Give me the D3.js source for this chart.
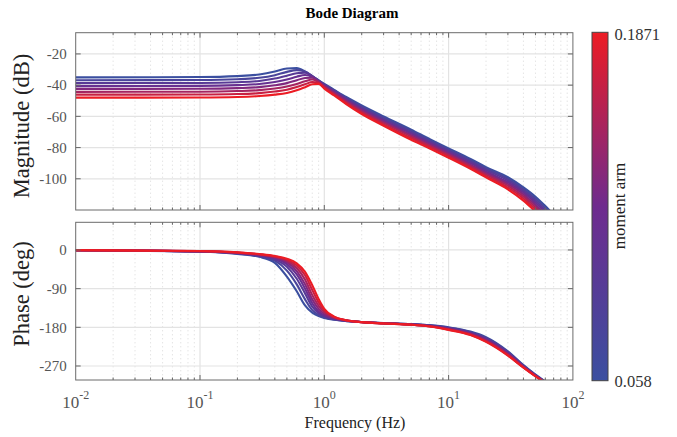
<!DOCTYPE html>
<html><head><meta charset="utf-8">
<script src="https://cdn.jsdelivr.net/npm/d3@7"></script>
<style>body{margin:0;background:#fff}svg{display:block}text{font-family:"Liberation Serif","Times New Roman",serif}</style>
</head><body><svg id="c" width="677" height="437"></svg>
<script>
// ---------- data ----------
const freqs = [0.01,0.1,0.2,0.3,0.4,0.5,0.6,0.7,0.8,0.9,1,1.2,1.5,2,3,5,7,10,15,20,30,40,50,60,70];
const momentArms = [0.058,0.0764,0.0949,0.1133,0.1318,0.1502,0.1687,0.1871];

const mag0 = [-35.0,-34.8,-34.2,-33.2,-31.3,-29.3,-29.1,-31.3,-34.3,-36.9,-39.2,-43.0,-47.6,-53.0,-60.0,-68.5,-74.5,-80.5,-87.3,-92.5,-99.0,-105.5,-111.5,-117.5,-123.0];
const mag1 = [-36.9,-36.7,-36.2,-35.3,-33.6,-31.5,-30.4,-31.3,-34.2,-37.0,-39.5,-43.4,-48.2,-53.8,-60.9,-69.4,-75.3,-81.3,-88.2,-93.4,-100.0,-106.6,-112.8,-118.8,-124.3];
const mag2 = [-38.7,-38.6,-38.1,-37.3,-35.8,-34.0,-32.4,-32.0,-34.2,-37.2,-39.8,-43.8,-48.8,-54.6,-61.8,-70.3,-76.1,-82.1,-89.1,-94.3,-101.1,-107.7,-114.1,-120.1,-125.6];
const mag3 = [-40.6,-40.5,-40.0,-39.3,-38.0,-36.4,-34.6,-33.5,-34.6,-37.5,-40.2,-44.3,-49.4,-55.3,-62.6,-71.1,-76.9,-82.9,-90.0,-95.3,-102.2,-108.8,-115.4,-121.4,-126.9];
const mag4 = [-42.4,-42.3,-41.9,-41.3,-40.1,-38.7,-36.9,-35.4,-35.3,-37.8,-40.6,-44.8,-50.0,-56.0,-63.4,-72.0,-77.7,-83.8,-90.9,-96.3,-103.3,-110.0,-116.8,-122.8,-128.3];
const mag5 = [-44.3,-44.2,-43.8,-43.2,-42.2,-40.9,-39.2,-37.5,-36.4,-38.2,-41.1,-45.4,-50.7,-56.8,-64.2,-72.9,-78.6,-84.6,-91.8,-97.2,-104.4,-111.3,-118.2,-124.2,-129.7];
const mag6 = [-46.1,-46.0,-45.7,-45.1,-44.1,-42.9,-41.2,-39.5,-38.0,-38.6,-41.6,-46.0,-51.4,-57.6,-65.1,-73.9,-79.5,-85.5,-92.7,-98.1,-105.6,-112.6,-119.6,-125.6,-131.0];
const mag7 = [-48.0,-47.9,-47.6,-47.0,-46.1,-45.0,-43.3,-41.3,-39.4,-39.2,-42.2,-46.6,-52.1,-58.5,-66.0,-75.0,-80.5,-86.5,-93.6,-99.1,-106.8,-114.0,-121.0,-127.0,-132.5];

const phase0 = [-0.5,-4.0,-9.0,-16.0,-30.0,-62.0,-96.0,-129.0,-146.0,-154.0,-158.0,-162.5,-165.5,-167.5,-170.0,-172.5,-175.0,-180.0,-190.0,-203.0,-236.0,-268.0,-290.0,-306.0,-316.0];
const phase1 = [-0.5,-3.7,-8.2,-14.5,-25.0,-48.0,-80.0,-115.0,-140.0,-151.0,-156.5,-161.5,-165.0,-167.6,-170.2,-172.8,-175.5,-180.8,-191.2,-204.5,-237.5,-269.0,-291.0,-306.5,-316.5];
const phase2 = [-0.4,-3.4,-7.6,-13.3,-22.0,-39.0,-67.0,-101.0,-132.0,-147.0,-154.5,-160.5,-164.7,-167.7,-170.4,-173.0,-176.0,-181.8,-192.5,-206.0,-239.0,-270.0,-291.5,-307.0,-317.0];
const phase3 = [-0.4,-3.2,-7.0,-12.3,-19.5,-33.0,-57.0,-90.0,-124.0,-143.0,-152.0,-159.5,-164.3,-167.8,-170.5,-173.3,-176.5,-182.8,-194.0,-208.0,-240.5,-271.0,-292.0,-307.5,-317.5];
const phase4 = [-0.4,-3.0,-6.6,-11.4,-17.5,-28.5,-49.0,-80.0,-115.0,-137.0,-149.0,-158.3,-164.0,-167.9,-170.7,-173.5,-177.0,-183.8,-195.2,-209.8,-242.0,-272.0,-292.8,-308.0,-318.0];
const phase5 = [-0.3,-2.8,-6.2,-10.6,-16.0,-25.0,-42.0,-69.0,-105.0,-130.0,-145.0,-157.0,-163.8,-168.0,-170.8,-173.7,-177.4,-184.7,-196.3,-211.3,-243.5,-272.8,-293.3,-308.5,-318.5];
const phase6 = [-0.3,-2.6,-5.8,-10.0,-15.0,-22.5,-36.0,-59.0,-93.0,-122.0,-141.0,-156.0,-163.6,-168.0,-170.9,-173.9,-177.7,-185.4,-197.2,-212.7,-244.8,-273.4,-293.7,-308.8,-318.8];
const phase7 = [-0.3,-2.5,-5.5,-9.5,-14.0,-20.5,-31.0,-51.0,-82.0,-114.0,-137.0,-155.0,-163.5,-168.0,-171.0,-174.0,-178.0,-186.0,-198.0,-214.0,-246.0,-274.0,-294.0,-309.0,-319.0];

const magSeries = [mag0,mag1,mag2,mag3,mag4,mag5,mag6,mag7];
const phaseSeries = [phase0,phase1,phase2,phase3,phase4,phase5,phase6,phase7];

const freqDomain = [0.01, 100];
const freqTicks = [0.01, 0.1, 1, 10, 100];
const freqTickExp = ["-2","-1","0","1","2"];
const magDomain = [-120, -6.4];
const magTicks = [-100, -80, -60, -40, -20];
const phaseDomain = [-302.6, 64.4];
const phaseTicks = [-270, -180, -90, 0];
const cbDomain = [0.058, 0.1871];
const cbTickLabels = ["0.058", "0.1871"];
const cbColors = ["#3b4fa0", "#6e2b8e", "#ec1c24"];

// ---------- drawing ----------
const svg = d3.select("#c");
const L = 75.7, R = 572.9;
const P1 = {top: 32.7, bottom: 210};
const P2 = {top: 222.3, bottom: 380};

const x = d3.scaleLog().domain(freqDomain).range([L, R]);
const yMag = d3.scaleLinear().domain(magDomain).range([P1.bottom, P1.top]);
const yPh = d3.scaleLinear().domain(phaseDomain).range([P2.bottom, P2.top]);
const color = d3.scaleLinear()
  .domain([cbDomain[0], (cbDomain[0]+cbDomain[1])/2, cbDomain[1]])
  .range(cbColors);

const minorTicks = [];
for (let e = -2; e < 2; e++) for (let m = 2; m <= 9; m++) minorTicks.push(m * Math.pow(10, e));
const majorInner = freqTicks.slice(1, -1);

const defs = svg.append("defs");

function panel(id, P, y, yTicks, series) {
  const g = svg.append("g");
  defs.append("clipPath").attr("id", id).append("rect")
    .attr("x", L).attr("y", P.top).attr("width", R - L).attr("height", P.bottom - P.top);
  g.selectAll(".mg").data(minorTicks).join("line")
    .attr("x1", d => x(d)).attr("x2", d => x(d)).attr("y1", P.top).attr("y2", P.bottom)
    .attr("stroke", "#cfcfcf").attr("stroke-width", 0.8).attr("stroke-dasharray", "1,3");
  g.selectAll(".Mg").data(majorInner).join("line")
    .attr("x1", d => x(d)).attr("x2", d => x(d)).attr("y1", P.top).attr("y2", P.bottom)
    .attr("stroke", "#e3e3e3").attr("stroke-width", 1.2);
  g.selectAll(".hg").data(yTicks).join("line")
    .attr("x1", L).attr("x2", R).attr("y1", d => y(d)).attr("y2", d => y(d))
    .attr("stroke", "#e3e3e3").attr("stroke-width", 1.2);
  const line = d3.line().x((d, i) => x(freqs[i])).y(d => y(d)).curve(d3.curveMonotoneX);
  const cg = g.append("g").attr("clip-path", `url(#${id})`);
  series.forEach((s, k) => {
    cg.append("path").attr("d", line(s)).attr("fill", "none")
      .attr("stroke", color(momentArms[k])).attr("stroke-width", 2.1).attr("stroke-linejoin", "round");
  });
  const tc = "#666";
  g.selectAll(".tm").data(minorTicks).join("g").each(function(d) {
    const s = d3.select(this);
    s.append("line").attr("x1", x(d)).attr("x2", x(d)).attr("y1", P.bottom).attr("y2", P.bottom - 2.5).attr("stroke", tc);
    s.append("line").attr("x1", x(d)).attr("x2", x(d)).attr("y1", P.top).attr("y2", P.top + 2.5).attr("stroke", tc);
  });
  g.selectAll(".tM").data(majorInner).join("g").each(function(d) {
    const s = d3.select(this);
    s.append("line").attr("x1", x(d)).attr("x2", x(d)).attr("y1", P.bottom).attr("y2", P.bottom - 5).attr("stroke", tc);
    s.append("line").attr("x1", x(d)).attr("x2", x(d)).attr("y1", P.top).attr("y2", P.top + 5).attr("stroke", tc);
  });
  g.selectAll(".ty").data(yTicks).join("g").each(function(d) {
    const s = d3.select(this);
    s.append("line").attr("x1", L).attr("x2", L + 5).attr("y1", y(d)).attr("y2", y(d)).attr("stroke", tc);
    s.append("line").attr("x1", R).attr("x2", R - 5).attr("y1", y(d)).attr("y2", y(d)).attr("stroke", tc);
  });
  g.append("rect").attr("x", L).attr("y", P.top).attr("width", R - L).attr("height", P.bottom - P.top)
    .attr("fill", "none").attr("stroke", "#6b6b6b").attr("stroke-width", 1);
  g.selectAll(".yl").data(yTicks).join("text")
    .attr("x", L - 9).attr("y", d => y(d) + 5.2)
    .attr("text-anchor", "end").attr("font-size", 15).attr("fill", "#555")
    .text(d => d);
  return g;
}

panel("clipMag", P1, yMag, magTicks, magSeries);
panel("clipPh", P2, yPh, phaseTicks, phaseSeries);

const xl = svg.append("g");
freqTicks.forEach((f, i) => {
  const t = xl.append("text").attr("x", x(f)).attr("y", 408).attr("text-anchor", "middle")
    .attr("fill", "#555").attr("font-size", 17);
  t.append("tspan").text("10");
  t.append("tspan").attr("dy", -9).attr("font-size", 12).text(freqTickExp[i]);
});

svg.append("text").attr("x", 352).attr("y", 18).attr("text-anchor", "middle")
  .attr("font-size", 15).attr("font-weight", "bold").attr("fill", "#000").text("Bode Diagram");
svg.append("text").attr("x", 355).attr("y", 428).attr("text-anchor", "middle")
  .attr("font-size", 16).attr("fill", "#222").text("Frequency  (Hz)");
svg.append("text").attr("transform", "translate(29,126) rotate(-90)")
  .attr("text-anchor", "middle").attr("font-size", 22.5).attr("fill", "#222").text("Magnitude (dB)");
svg.append("text").attr("transform", "translate(29,294) rotate(-90)")
  .attr("text-anchor", "middle").attr("font-size", 22.5).attr("fill", "#222").text("Phase (deg)");

const cbX = 592, cbW = 16, cbTop = 32.3, cbBot = 380.7;
const grad = defs.append("linearGradient").attr("id", "cbg")
  .attr("x1", 0).attr("y1", 1).attr("x2", 0).attr("y2", 0);
cbColors.forEach((c, i) => grad.append("stop").attr("offset", i / (cbColors.length - 1)).attr("stop-color", c));
svg.append("rect").attr("x", cbX).attr("y", cbTop).attr("width", cbW).attr("height", cbBot - cbTop)
  .attr("fill", "url(#cbg)").attr("stroke", "#444").attr("stroke-width", 1);
svg.append("text").attr("x", 614.5).attr("y", 40).attr("font-size", 16.5).attr("fill", "#333").text(cbTickLabels[1]);
svg.append("text").attr("x", 614.5).attr("y", 386.5).attr("font-size", 16.5).attr("fill", "#333").text(cbTickLabels[0]);
svg.append("text").attr("transform", "translate(625,206) rotate(-90)").attr("text-anchor", "middle")
  .attr("font-size", 17).attr("fill", "#222").text("moment arm");
</script></body></html>
